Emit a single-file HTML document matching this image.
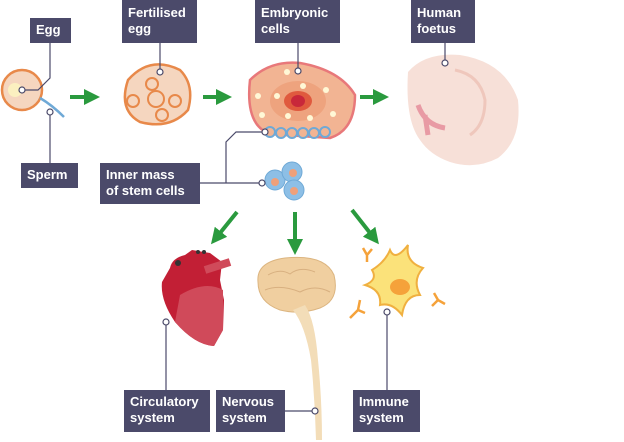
<!DOCTYPE html>
<html><head><style>
body{margin:0;background:#fff;width:624px;height:442px;overflow:hidden}
.l{position:absolute;background:#4b4a6a;color:#fff;font:bold 13px/16px "Liberation Sans",sans-serif;padding:4px 6px;box-sizing:border-box;white-space:nowrap}
</style></head><body>
<svg width="624" height="442" style="position:absolute;left:0;top:0">
<defs><marker id="a" markerWidth="4" markerHeight="4" refX="2" refY="2" orient="auto"><path d="M0,0L4,2L0,4z" fill="#2a9a3e"/></marker></defs>
<g stroke="#2a9a3e" stroke-width="4" marker-end="url(#a)">
<line x1="70" y1="97" x2="92" y2="97"/><line x1="203" y1="97" x2="224" y2="97"/><line x1="360" y1="97" x2="381" y2="97"/>
<line x1="237" y1="212" x2="216" y2="238"/><line x1="295" y1="212" x2="295" y2="247"/><line x1="352" y1="210" x2="374" y2="238"/>
</g>
<circle cx="22" cy="90" r="20" fill="#f5d6bf" stroke="#e8894a" stroke-width="2.5"/>
<circle cx="15" cy="90" r="7" fill="#fbf0c0"/>
<path d="M40,98 Q52,105 64,117" stroke="#6fa9d6" stroke-width="2.5" fill="none"/>
<path d="M128,80 Q150,55 180,70 Q195,85 188,110 Q170,130 140,122 Q118,110 128,80z" fill="#f5d6bf" stroke="#e8894a" stroke-width="2.5"/>
<g fill="none" stroke="#e8894a" stroke-width="2"><circle cx="152" cy="84" r="6"/><circle cx="133" cy="101" r="6"/><circle cx="156" cy="99" r="8"/><circle cx="175" cy="101" r="6"/><circle cx="162" cy="115" r="6"/></g>
<path d="M250,80 Q270,60 300,63 Q340,70 355,95 Q355,130 330,138 L270,134 Q245,125 250,80z" fill="#f2b493" stroke="#e8787a" stroke-width="2.5"/>
<ellipse cx="298" cy="101" rx="28" ry="20" fill="#eea37e"/><ellipse cx="298" cy="101" rx="14" ry="10" fill="#e05a3e"/><ellipse cx="298" cy="101" rx="7" ry="6" fill="#c8283a"/>
<g fill="#fff8d6"><circle cx="287" cy="72" r="3"/><circle cx="258" cy="96" r="3"/><circle cx="277" cy="96" r="3"/><circle cx="303" cy="86" r="3"/><circle cx="288" cy="116" r="3"/><circle cx="262" cy="115" r="3"/><circle cx="326" cy="90" r="3"/><circle cx="333" cy="114" r="3"/><circle cx="310" cy="118" r="3"/></g>
<g fill="#f2b493" stroke="#6fa9d6" stroke-width="2"><circle cx="270" cy="132" r="5"/><circle cx="281" cy="133" r="5"/><circle cx="292" cy="133" r="5"/><circle cx="303" cy="133" r="5"/><circle cx="314" cy="133" r="5"/><circle cx="325" cy="132" r="5"/></g>
<g fill="#8dbfe6" stroke="#6fa9d6"><circle cx="275" cy="180" r="10"/><circle cx="292" cy="172" r="10"/><circle cx="294" cy="190" r="10"/></g>
<g fill="#efa07a"><circle cx="275" cy="182" r="4"/><circle cx="293" cy="173" r="4"/><circle cx="294" cy="191" r="4"/></g>
<!-- foetus -->
<path d="M408,72 Q425,52 460,55 Q505,62 518,100 Q522,140 498,158 Q475,170 450,162 Q430,155 420,140 Q405,120 408,72z" fill="#f7e0d8"/>
<path d="M455,70 Q480,75 485,100 Q485,125 470,135" stroke="#efc7bc" stroke-width="3" fill="none"/>
<path d="M418,105 Q425,125 445,128 M425,115 L428,135" stroke="#e89aa4" stroke-width="5" fill="none"/>
<!-- heart -->
<path d="M170,268 Q172,258 185,255 L192,250 L210,253 L222,262 L220,280 L224,300 L223,330 L214,346 Q195,345 175,322 Q160,300 162,282z" fill="#c21f35"/>
<path d="M180,295 Q205,280 223,290 L223,330 L214,346 Q195,345 175,322z" fill="#d04a5a"/>
<path d="M205,270 L230,262" stroke="#d04a5a" stroke-width="8"/>
<g fill="#333"><circle cx="178" cy="263" r="3"/><circle cx="198" cy="252" r="2"/><circle cx="204" cy="252" r="2"/></g>
<!-- brain -->
<path d="M258,282 Q256,262 285,258 Q325,254 334,275 Q340,300 320,308 Q300,315 280,310 Q258,302 258,282z" fill="#f0cfa0" stroke="#dcb580"/>
<path d="M268,275 Q280,268 290,274 Q300,266 315,272 M265,290 Q280,284 300,292 Q315,284 330,292" stroke="#d8b080" fill="none"/>
<path d="M305,305 Q315,320 318,360 Q322,400 322,440 L316,440 Q315,400 311,360 Q305,325 293,310z" fill="#f3ddb8"/>
<!-- immune -->
<path d="M372,270 Q385,262 390,250 Q395,262 408,245 Q405,262 423,268 Q412,280 420,295 Q405,295 402,315 Q392,302 380,305 Q382,290 365,285 Q378,280 372,270z" fill="#fbe27a" stroke="#f0b040" stroke-width="2"/>
<ellipse cx="400" cy="287" rx="10" ry="8" fill="#f5a23a"/>
<g stroke="#f5a23a" stroke-width="2.5" fill="none"><path d="M367,262V255L363,248M367,255L372,249"/><path d="M350,318L358,310L365,313M358,310L360,300"/><path d="M432,306L438,300L445,304M438,300L434,293"/></g>
<g stroke="#4b4a6a" stroke-width="1.2" fill="none">
<path d="M50,43V78L38,90H22"/><line x1="50" y1="112" x2="50" y2="163"/><line x1="160" y1="43" x2="160" y2="72"/><line x1="298" y1="43" x2="298" y2="71"/>
<path d="M200,183H262M226,183V142L236,132H265"/><line x1="445" y1="43" x2="445" y2="63"/>
<line x1="166" y1="322" x2="166" y2="390"/><line x1="285" y1="411" x2="315" y2="411"/><line x1="387" y1="312" x2="387" y2="390"/>
</g>
<g fill="#fff" stroke="#4b4a6a" stroke-width="1.2"><circle cx="22" cy="90" r="3"/><circle cx="50" cy="112" r="3"/><circle cx="160" cy="72" r="3"/><circle cx="298" cy="71" r="3"/><circle cx="265" cy="132" r="3"/><circle cx="262" cy="183" r="3"/><circle cx="445" cy="63" r="3"/><circle cx="166" cy="322" r="3"/><circle cx="315" cy="411" r="3"/><circle cx="387" cy="312" r="3"/></g>
</svg>
<div class="l" style="left:30px;top:18px;width:41px;height:25px">Egg</div>
<div class="l" style="left:21px;top:163px;width:57px;height:25px">Sperm</div>
<div class="l" style="left:122px;top:0;width:75px;height:43px;padding-top:5px">Fertilised<br>egg</div>
<div class="l" style="left:255px;top:0;width:85px;height:43px;padding-top:5px">Embryonic<br>cells</div>
<div class="l" style="left:411px;top:0;width:64px;height:43px;padding-top:5px">Human<br>foetus</div>
<div class="l" style="left:100px;top:163px;width:100px;height:41px">Inner mass<br>of stem cells</div>
<div class="l" style="left:124px;top:390px;width:86px;height:42px">Circulatory<br>system</div>
<div class="l" style="left:216px;top:390px;width:69px;height:42px">Nervous<br>system</div>
<div class="l" style="left:353px;top:390px;width:67px;height:42px">Immune<br>system</div>
</body></html>
